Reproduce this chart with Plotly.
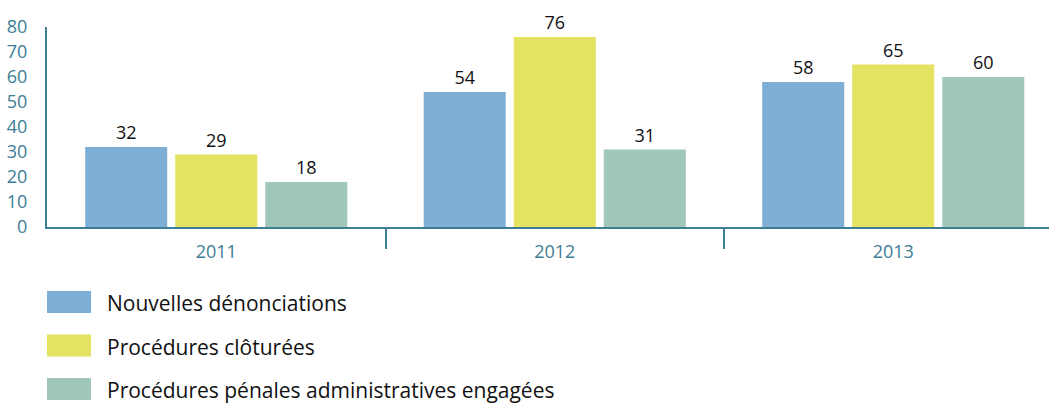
import plotly.graph_objects as go

years = ["2011", "2012", "2013"]
series_names = ["Nouvelles dénonciations", "Procédures clôturées",
                "Procédures pénales administratives engagées"]
nouvelles = [32, 54, 58]
cloturees = [29, 76, 65]
penales = [18, 31, 60]
y_ticks = [0, 10, 20, 30, 40, 50, 60, 70, 80]

colors = ["#7eaed3", "#e3e361", "#9fc8b8"]
axis_color = "#3d7d96"
font_family = "Open Sans, Liberation Sans, sans-serif"

fig = go.Figure()
xpos = list(range(len(years)))
for name, vals, col in zip(series_names, [nouvelles, cloturees, penales], colors):
    fig.add_trace(go.Bar(
        x=xpos, y=vals, name=name, marker_color=col, marker_line_width=0,
        text=[str(v) for v in vals], textposition="outside",
        textfont=dict(color="#111111", size=18, family=font_family),
        cliponaxis=False, showlegend=False,
    ))

# Legend drawn as swatches + labels (paper coords: 0 at y=227px, 1 at y=27px)
for i, (name, col) in enumerate(zip(series_names, colors)):
    yc = 302 + 43.5 * i
    fig.add_shape(type="rect", xref="paper", yref="paper",
                  x0=0 / 1002, x1=44 / 1002,
                  y0=-(yc + 11 - 227) / 200, y1=-(yc - 11 - 227) / 200,
                  fillcolor=col, line_width=0)
    fig.add_annotation(xref="paper", yref="paper", x=58 / 1002,
                       y=-(yc + 1 - 227) / 200, text=name, showarrow=False,
                       xanchor="left", yanchor="middle",
                       font=dict(color="#111111", size=21, family=font_family))

fig.update_layout(
    width=1049, height=403,
    margin=dict(l=47, r=0, t=27, b=176),
    paper_bgcolor="white", plot_bgcolor="white",
    barmode="group", bargap=0.202, bargroupgap=0.089,
    font=dict(family=font_family, color=axis_color),
    xaxis=dict(
        range=[-0.5, -0.5 + 1002 / 338.5],
        tickvals=xpos, ticktext=years, ticks="",
        tickfont=dict(size=18, color=axis_color, family=font_family),
        showline=True, linecolor=axis_color, linewidth=2,
        showgrid=False, zeroline=False, ticklabelstandoff=7,
        minor=dict(tickvals=[0.5, 1.5], ticks="outside", ticklen=20,
                   tickwidth=2, tickcolor=axis_color, showgrid=False),
    ),
    yaxis=dict(
        range=[0, 80], tickvals=y_ticks, ticks="",
        tickfont=dict(size=18, color=axis_color, family=font_family),
        showline=True, linecolor=axis_color, linewidth=2,
        showgrid=False, zeroline=False, ticklabelstandoff=14,
    ),
)

fig.write_html("out.html")
